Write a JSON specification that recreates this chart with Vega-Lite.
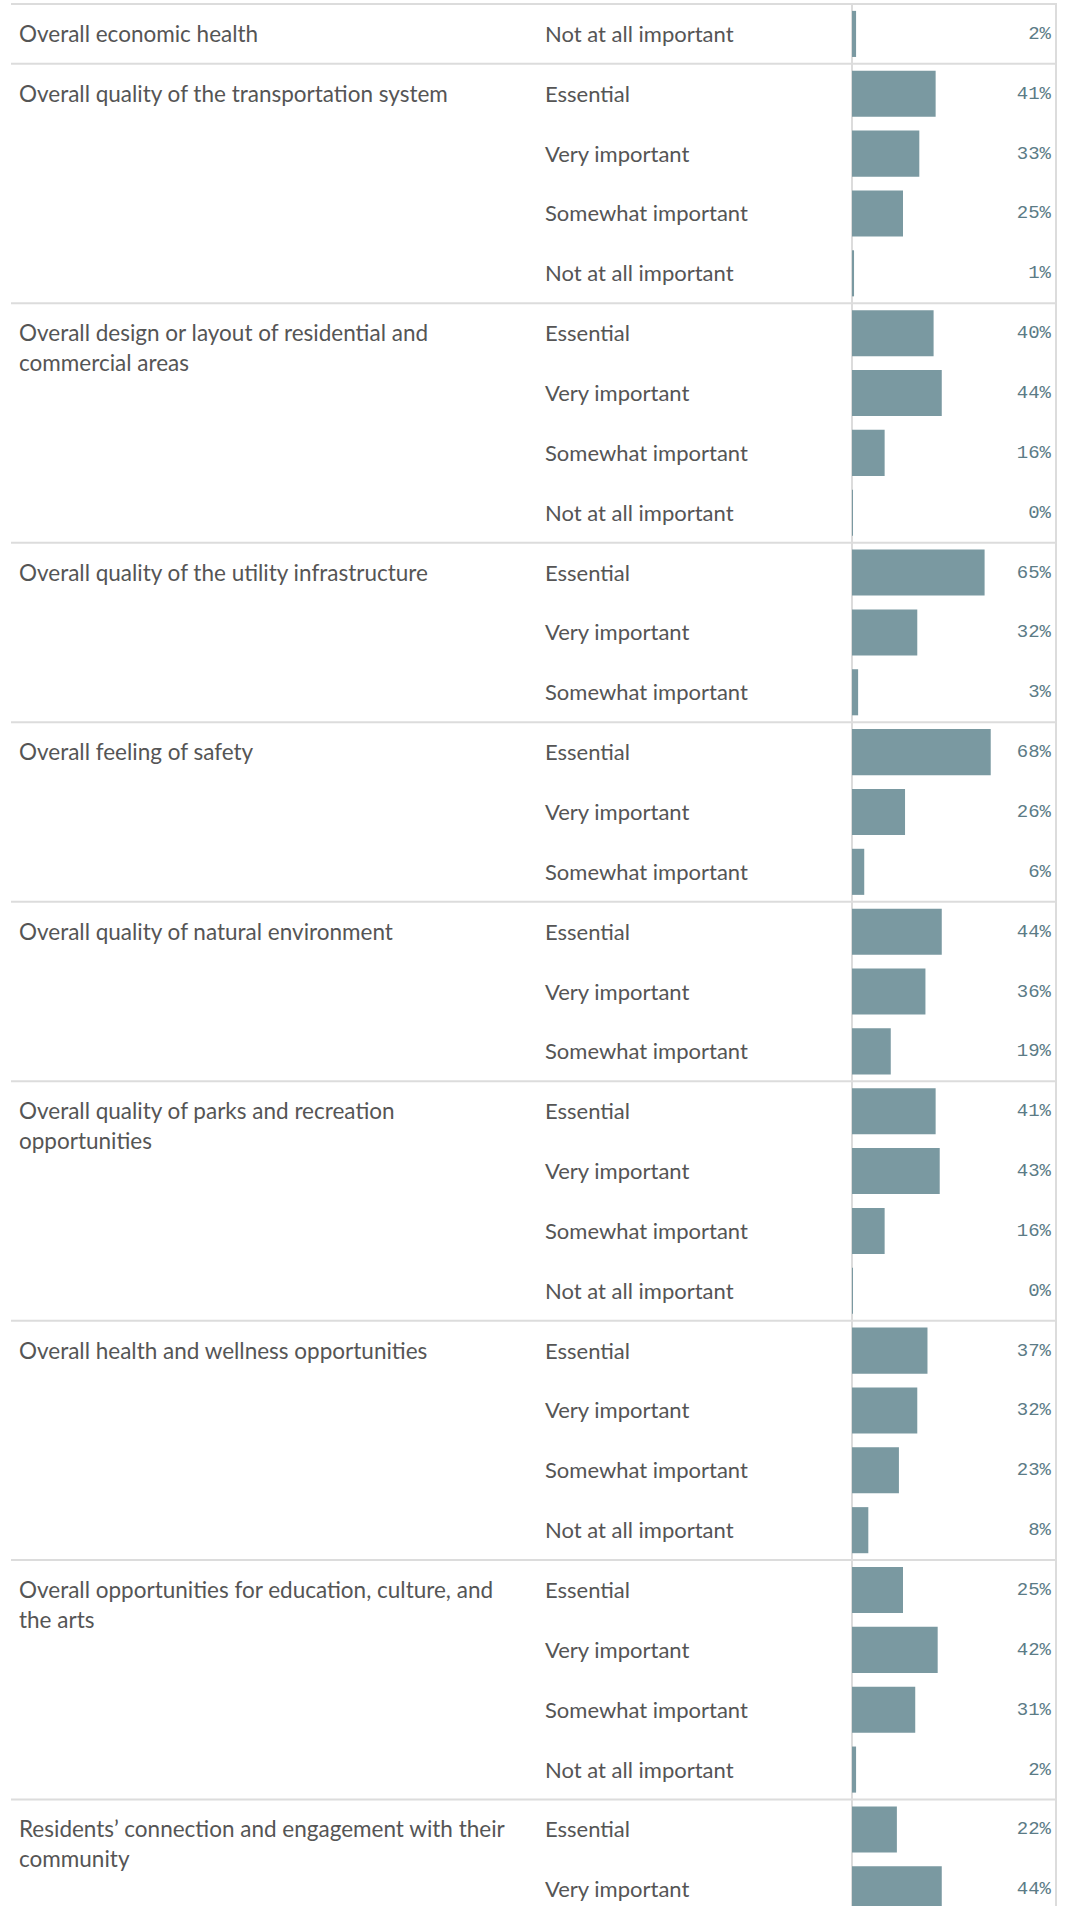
{
  "$schema": "https://vega.github.io/schema/vega-lite/v6.json",
  "background": "white",
  "padding": {"left": 10, "top": 2, "right": 0, "bottom": 0},
  "spacing": 0,
  "bounds": "flush",
  "data": {
    "values": [
      {"cat": "Overall economic health", "sub": "Not at all important", "pct": 0.02},
      {"cat": "Overall quality of the transportation system", "sub": "Essential", "pct": 0.41},
      {"cat": "Overall quality of the transportation system", "sub": "Very important", "pct": 0.33},
      {"cat": "Overall quality of the transportation system", "sub": "Somewhat important", "pct": 0.25},
      {"cat": "Overall quality of the transportation system", "sub": "Not at all important", "pct": 0.01},
      {"cat": "Overall design or layout of residential and commercial areas", "sub": "Essential", "pct": 0.40},
      {"cat": "Overall design or layout of residential and commercial areas", "sub": "Very important", "pct": 0.44},
      {"cat": "Overall design or layout of residential and commercial areas", "sub": "Somewhat important", "pct": 0.16},
      {"cat": "Overall design or layout of residential and commercial areas", "sub": "Not at all important", "pct": 0.0049},
      {"cat": "Overall quality of the utility infrastructure", "sub": "Essential", "pct": 0.65},
      {"cat": "Overall quality of the utility infrastructure", "sub": "Very important", "pct": 0.32},
      {"cat": "Overall quality of the utility infrastructure", "sub": "Somewhat important", "pct": 0.03},
      {"cat": "Overall feeling of safety", "sub": "Essential", "pct": 0.68},
      {"cat": "Overall feeling of safety", "sub": "Very important", "pct": 0.26},
      {"cat": "Overall feeling of safety", "sub": "Somewhat important", "pct": 0.06},
      {"cat": "Overall quality of natural environment", "sub": "Essential", "pct": 0.44},
      {"cat": "Overall quality of natural environment", "sub": "Very important", "pct": 0.36},
      {"cat": "Overall quality of natural environment", "sub": "Somewhat important", "pct": 0.19},
      {"cat": "Overall quality of parks and recreation opportunities", "sub": "Essential", "pct": 0.41},
      {"cat": "Overall quality of parks and recreation opportunities", "sub": "Very important", "pct": 0.43},
      {"cat": "Overall quality of parks and recreation opportunities", "sub": "Somewhat important", "pct": 0.16},
      {"cat": "Overall quality of parks and recreation opportunities", "sub": "Not at all important", "pct": 0.0049},
      {"cat": "Overall health and wellness opportunities", "sub": "Essential", "pct": 0.37},
      {"cat": "Overall health and wellness opportunities", "sub": "Very important", "pct": 0.32},
      {"cat": "Overall health and wellness opportunities", "sub": "Somewhat important", "pct": 0.23},
      {"cat": "Overall health and wellness opportunities", "sub": "Not at all important", "pct": 0.08},
      {"cat": "Overall opportunities for education, culture, and the arts", "sub": "Essential", "pct": 0.25},
      {"cat": "Overall opportunities for education, culture, and the arts", "sub": "Very important", "pct": 0.42},
      {"cat": "Overall opportunities for education, culture, and the arts", "sub": "Somewhat important", "pct": 0.31},
      {"cat": "Overall opportunities for education, culture, and the arts", "sub": "Not at all important", "pct": 0.02},
      {"cat": "Residents’ connection and engagement with their community", "sub": "Essential", "pct": 0.22},
      {"cat": "Residents’ connection and engagement with their community", "sub": "Very important", "pct": 0.44}
    ]
  },
  "transform": [
    {"calculate": "datum.cat + ' | ' + datum.sub", "as": "key"},
    {"window": [{"op": "row_number", "as": "rn"}], "groupby": ["cat"]},
    {"calculate": "length(datum.cat) > 50 ? lastindexof(substring(datum.cat, 0, 51), ' ') : -1", "as": "cut"},
    {"calculate": "datum.rn !== 1 ? '' : (datum.cut < 0 ? datum.cat : [substring(datum.cat, 0, datum.cut), substring(datum.cat, datum.cut + 1)])", "as": "lines"}
  ],
  "resolve": {"scale": {"y": "shared", "x": "independent"}},
  "hconcat": [
    {
      "width": 526,
      "height": 1904,
      "layer": [
        {
          "mark": {"type": "rule", "color": "#dcdcdc", "strokeWidth": 2},
          "encoding": {
            "y": {"field": "key", "type": "nominal", "sort": null, "bandPosition": 0, "axis": null,
                  "scale": {"paddingInner": 0, "paddingOuter": 0, "range": [0, 1915.2]}},
            "strokeOpacity": {"condition": {"test": "datum.rn === 1", "value": 1}, "value": 0}
          }
        },
        {
          "mark": {"type": "text", "align": "left", "baseline": "alphabetic", "dx": 8, "dy": 8,
                   "font": "Lato", "fontSize": 22.5, "lineHeight": 30, "color": "#555555"},
          "encoding": {
            "y": {"field": "key", "type": "nominal", "sort": null, "axis": null},
            "x": {"datum": 0, "type": "quantitative", "scale": {"domain": [0, 1]}, "axis": null},
            "text": {"field": "lines", "type": "nominal"}
          }
        }
      ]
    },
    {
      "width": 315,
      "height": 1904,
      "layer": [
        {
          "mark": {"type": "rule", "color": "#dcdcdc", "strokeWidth": 2},
          "encoding": {
            "y": {"field": "key", "type": "nominal", "sort": null, "bandPosition": 0, "axis": null},
            "strokeOpacity": {"condition": {"test": "datum.rn === 1", "value": 1}, "value": 0}
          }
        },
        {
          "mark": {"type": "text", "align": "left", "baseline": "middle", "dx": 8, "dy": 1,
                   "font": "Lato", "fontSize": 22, "color": "#555555"},
          "encoding": {
            "y": {"field": "key", "type": "nominal", "sort": null, "axis": null},
            "x": {"datum": 0, "type": "quantitative", "scale": {"domain": [0, 1]}, "axis": null},
            "text": {"field": "sub", "type": "nominal"}
          }
        }
      ]
    },
    {
      "width": 204,
      "height": 1904,
      "view": {"stroke": "#dcdcdc", "strokeWidth": 2},
      "layer": [
        {
          "mark": {"type": "rule", "color": "#dcdcdc", "strokeWidth": 2},
          "encoding": {
            "y": {"field": "key", "type": "nominal", "sort": null, "bandPosition": 0, "axis": null},
            "strokeOpacity": {"condition": {"test": "datum.rn === 1", "value": 1}, "value": 0}
          }
        },
        {
          "mark": {"type": "bar", "height": {"band": 0.77}, "color": "#7a99a1", "clip": true},
          "encoding": {
            "y": {"field": "key", "type": "nominal", "sort": null, "axis": null},
            "x": {"field": "pct", "type": "quantitative", "scale": {"domain": [0, 1]}, "axis": null}
          }
        },
        {
          "mark": {"type": "text", "align": "right", "baseline": "middle", "dx": -5, "dy": -1,
                   "font": "Liberation Mono", "fontSize": 19, "color": "#5b7b86", "clip": true},
          "encoding": {
            "y": {"field": "key", "type": "nominal", "sort": null, "axis": null},
            "x": {"datum": 1, "type": "quantitative"},
            "text": {"field": "pct", "type": "quantitative", "format": ".0%"}
          }
        }
      ]
    }
  ],
  "config": {
    "view": {"stroke": null},
    "concat": {"spacing": 0}
  }
}
